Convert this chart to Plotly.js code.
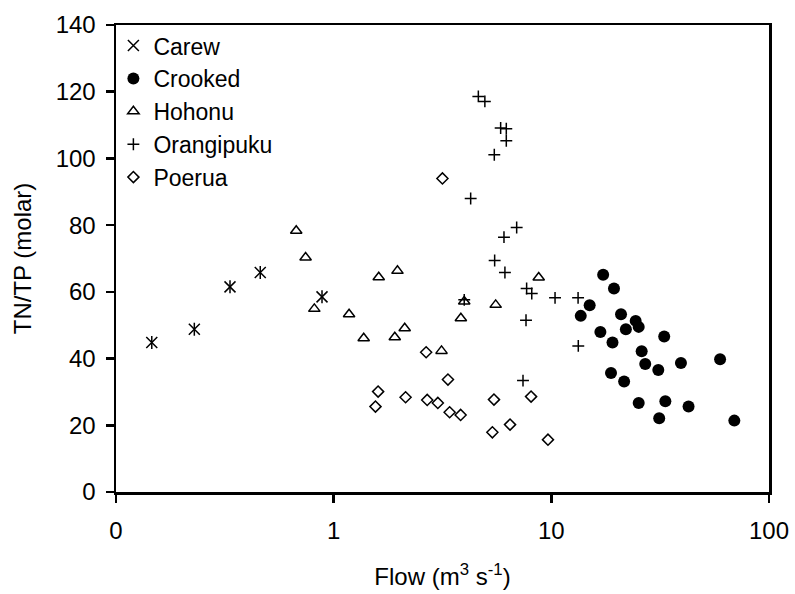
<!DOCTYPE html>
<html>
<head>
<meta charset="utf-8">
<script src="https://cdn.plot.ly/plotly-3.0.1.min.js"></script>
<style>html,body{margin:0;padding:0;background:#fff;}#chart{width:795px;height:594px;}</style>
</head>
<body>
<div id="chart"></div>
<script>
// Carew
const carewFlow = [0.146, 0.229, 0.334, 0.460, 0.884];
const carewRatio = [44.8, 48.8, 61.5, 65.8, 58.5];
// Crooked
const crookedFlow = [17.3, 19.4, 15.0, 13.65, 20.9, 24.4, 25.2, 22.0, 16.8, 33.0, 19.1, 26.0, 59.6, 27.0, 39.4, 31.0, 18.8, 21.6, 33.4, 25.2, 42.7, 31.3, 69.3];
const crookedRatio = [65.1, 61.0, 56.0, 52.8, 53.3, 51.3, 49.5, 48.8, 48.0, 46.6, 44.8, 42.2, 39.8, 38.4, 38.7, 36.6, 35.7, 33.1, 27.2, 26.7, 25.6, 22.1, 21.4];
// Hohonu
const hohonuFlow = [0.673, 0.743, 0.815, 1.177, 1.374, 1.611, 1.964, 1.909, 2.12, 3.13, 3.84, 3.98, 5.55, 8.75];
const hohonuRatio = [78.3, 70.3, 54.9, 53.3, 46.1, 64.4, 66.3, 46.4, 49.1, 42.3, 52.1, 57.1, 56.1, 64.3];
// Orangipuku
const orangiFlow = [4.62, 4.95, 5.85, 6.21, 6.21, 5.47, 4.26, 6.93, 6.06, 5.49, 6.12, 7.70, 8.13, 10.4, 13.27, 7.65, 13.3, 7.41, 3.98];
const orangiRatio = [118.6, 117.1, 109.1, 108.9, 105.3, 101.1, 88.0, 79.3, 76.4, 69.4, 65.8, 61.0, 59.5, 58.2, 58.2, 51.5, 43.8, 33.4, 57.6];
// Poerua
const poeruaFlow = [3.16, 2.66, 3.35, 1.60, 1.556, 2.14, 2.69, 3.01, 3.41, 3.83, 5.45, 5.36, 6.46, 8.07, 9.65];
const poeruaRatio = [94.0, 41.9, 33.7, 30.1, 25.6, 28.4, 27.6, 26.7, 23.9, 23.1, 27.7, 17.9, 20.2, 28.6, 15.7];

const xTickVals = [0.1, 1, 10, 100];
const xTickText = ['0', '1', '10', '100'];

const FONT = 'Arial, "Liberation Sans", sans-serif';

const traces = [
  {x: carewFlow, y: carewRatio, name: 'Carew', type: 'scatter', mode: 'markers',
   marker: {symbol: 'x-thin-open', size: 11, color: 'black', line: {color: 'black', width: 1.5}}},
  {x: carewFlow, y: carewRatio, name: 'Carew', type: 'scatter', mode: 'markers', showlegend: false, hoverinfo: 'skip',
   marker: {symbol: 'line-ns-open', size: 9.3, color: 'black', line: {color: 'black', width: 1.5}}},
  {x: crookedFlow, y: crookedRatio, name: 'Crooked', type: 'scatter', mode: 'markers',
   marker: {symbol: 'circle', size: 12, color: 'black', line: {width: 0}}},
  {x: hohonuFlow, y: hohonuRatio, name: 'Hohonu', type: 'scatter', mode: 'markers',
   marker: {symbol: 'triangle-up-open', size: 10, color: 'black', line: {color: 'black', width: 1.5}}},
  {x: orangiFlow, y: orangiRatio, name: 'Orangipuku', type: 'scatter', mode: 'markers',
   marker: {symbol: 'cross-thin-open', size: 8.5, color: 'black', line: {color: 'black', width: 1.5}}},
  {x: poeruaFlow, y: poeruaRatio, name: 'Poerua', type: 'scatter', mode: 'markers',
   marker: {symbol: 'diamond-open', size: 8.5, color: 'black', line: {color: 'black', width: 1.5}}}
];

const layout = {
  width: 795, height: 594,
  margin: {l: 116, r: 26, t: 25, b: 102},
  paper_bgcolor: 'white', plot_bgcolor: 'white',
  font: {family: FONT, size: 24, color: 'black'},
  showlegend: true,
  legend: {x: -0.004, y: 1.002, xanchor: 'left', yanchor: 'top', bgcolor: 'rgba(0,0,0,0)',
           font: {family: FONT, size: 23, color: 'black'}, tracegroupgap: 0},
  xaxis: {
    type: 'log', range: [-1, 2],
    tickvals: xTickVals, ticktext: xTickText,
    ticks: 'outside', ticklen: 8, tickwidth: 2.5, tickcolor: 'black',
    showline: true, linecolor: 'black', linewidth: 2.5, mirror: true,
    showgrid: false, zeroline: false,
    ticklabelstandoff: 8,
    tickfont: {family: FONT, size: 24},
    title: {text: 'Flow (m<sup>3</sup> s<sup>-1</sup>)', font: {family: FONT, size: 24}, standoff: 25},
    automargin: false
  },
  yaxis: {
    range: [0, 140], dtick: 20, tick0: 0,
    ticks: 'outside', ticklen: 8, tickwidth: 2.5, tickcolor: 'black',
    showline: true, linecolor: 'black', linewidth: 2.5, mirror: true,
    showgrid: false, zeroline: false,
    ticklabelstandoff: 5,
    tickfont: {family: FONT, size: 24},
    title: {text: 'TN/TP (molar)', font: {family: FONT, size: 24}, standoff: 18},
    automargin: false
  }
};

Plotly.newPlot('chart', traces, layout, {displayModeBar: false, staticPlot: true});
</script>
</body>
</html>
